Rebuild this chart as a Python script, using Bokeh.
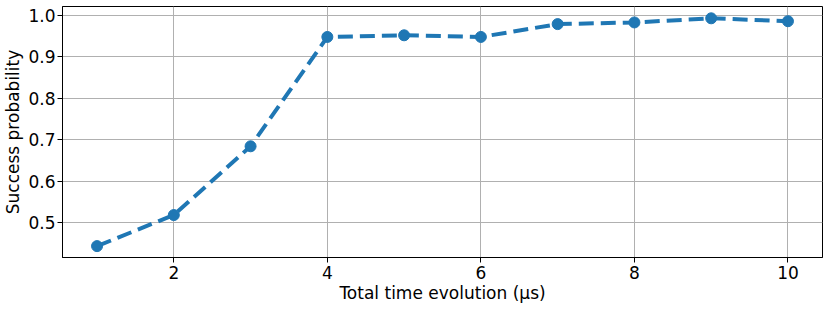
from bokeh.plotting import figure
from bokeh.models import FixedTicker, Range1d
from bokeh.embed import file_html
from bokeh.resources import INLINE

times = [1, 2, 3, 4, 5, 6, 7, 8, 9, 10]
success = [0.443, 0.518, 0.684, 0.948, 0.952, 0.948, 0.979, 0.983, 0.993, 0.986]
x_ticks = [2, 4, 6, 8, 10]
y_ticks = [0.5, 0.6, 0.7, 0.8, 0.9, 1.0]
y_tick_labels = ["0.5", "0.6", "0.7", "0.8", "0.9", "1.0"]

COLOR = "#1f77b4"
FONT = "DejaVu Sans"

p = figure(
    width=814, height=300,
    frame_width=760, frame_height=251,
    output_backend="svg", toolbar_location=None,
    x_range=Range1d(0.55, 10.45), y_range=Range1d(0.4155, 1.0215),
    min_border_left=52, min_border_right=1, min_border_top=6, min_border_bottom=43,
)
p.background_fill_color = "white"
p.border_fill_color = "white"
p.outline_line_color = "black"
p.outline_line_width = 1

p.line(times, success, line_color=COLOR, line_width=4, line_dash="15 7")
p.scatter(times, success, size=11, fill_color=COLOR, line_color=COLOR)

p.xaxis.ticker = FixedTicker(ticks=x_ticks)
p.yaxis.ticker = FixedTicker(ticks=y_ticks)
p.yaxis.major_label_overrides = {t: s for t, s in zip(y_ticks, y_tick_labels)}

for ax in (p.xaxis[0], p.yaxis[0]):
    ax.major_tick_out = 5
    ax.major_tick_in = 0
    ax.minor_tick_line_color = None
    ax.major_tick_line_color = "black"
    ax.axis_line_color = "black"
    ax.major_label_text_font = FONT
    ax.major_label_text_font_size = "17px"
    ax.major_label_text_color = "black"
    ax.axis_label_text_font = FONT
    ax.axis_label_text_font_size = "17px"
    ax.axis_label_text_font_style = "normal"
    ax.axis_label_text_color = "black"

p.xaxis.major_label_standoff = 3
p.yaxis.major_label_standoff = 2
p.xaxis.axis_label = "Total time evolution (μs)"
p.yaxis.axis_label = "Success probability"
p.xaxis.axis_label_standoff = 1
p.yaxis.axis_label_standoff = 2

p.grid.grid_line_color = "#b0b0b0"
p.grid.grid_line_width = 1

open("out.html", "w").write(file_html(p, INLINE))
